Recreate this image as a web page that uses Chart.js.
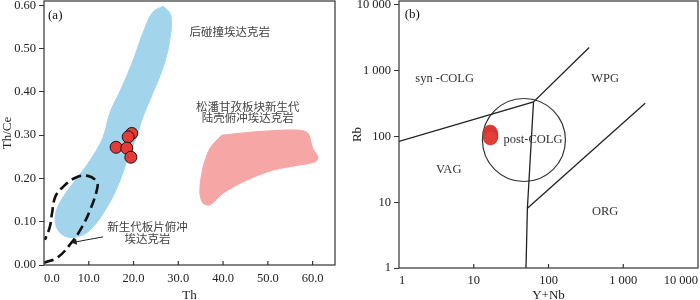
<!DOCTYPE html>
<html>
<head>
<meta charset="utf-8">
<script src="https://cdn.jsdelivr.net/npm/chart.js@4/dist/chart.umd.min.js"></script>
<style>
  html, body { margin: 0; padding: 0; background: #fff; }
  .wrap { display: flex; width: 700px; height: 300px; }
</style>
</head>
<body>
<div class="wrap">
  <canvas id="th-chart" width="350" height="300"></canvas>
  <canvas id="rb-chart" width="350" height="300"></canvas>
</div>
<script>
// ---- panel (a): Th vs Th/Ce ----
const sampleTh   = [19.6, 18.8, 16.1, 18.5, 19.4];
const sampleThCe = [0.304, 0.296, 0.272, 0.270, 0.249];

// post-collision adakite field (blue)
const postColTh   = [26.6, 28.3, 28.1, 26.6, 24.3, 22.1, 20.8, 18.8, 17.0, 14.1, 10.3, 7.4, 5.1, 3.1, 2.5, 3.6, 6.5, 10.3, 13.2, 14.7, 17.4, 19.9, 22.1, 24.3, 26.6];
const postColThCe = [0.598, 0.578, 0.520, 0.457, 0.397, 0.342, 0.300, 0.249, 0.196, 0.134, 0.081, 0.065, 0.065, 0.081, 0.111, 0.145, 0.189, 0.242, 0.296, 0.351, 0.411, 0.473, 0.536, 0.584, 0.598];

// Songpan-Ganzi crustal adakite field (pink)
const songpanTh   = [39.7, 47.5, 56.4, 58.9, 60.0, 61.2, 60.5, 57.1, 51.1, 45.3, 40.0, 37.1, 35.5, 34.8, 35.5, 37.1, 39.7];
const songpanThCe = [0.300, 0.308, 0.312, 0.305, 0.270, 0.249, 0.238, 0.231, 0.219, 0.196, 0.166, 0.139, 0.143, 0.169, 0.224, 0.270, 0.300];

// slab-melt adakite field (dashed)
const slabTh   = [0, 3.1, 6.25, 8.5, 10.3, 11.8, 11.8, 9.8, 6.9, 4.0, 2.5, 1.8, 1.3, 0.2];
const slabThCe = [0.005, 0.018, 0.053, 0.088, 0.127, 0.173, 0.192, 0.206, 0.201, 0.178, 0.157, 0.120, 0.088, 0.058];

const arrowTh   = [13.2, 6.9];
const arrowThCe = [0.065, 0.053];

const thTicks   = [0, 10, 20, 30, 40, 50, 60, 65];
const thCeTicks = [0, 0.1, 0.2, 0.3, 0.4, 0.5, 0.6];

// ---- panel (b): Y+Nb vs Rb ----
const sampleYNb = [16.6, 16.9, 16.8, 17.0, 16.7];
const sampleRb  = [117, 110, 104, 99, 95];

const synVagYNb = [1, 63, 350];
const synVagRb  = [84, 335, 2250];
const vagWpgYNb = [63, 52.2, 50];
const vagWpgRb  = [335, 8.1, 1];
const wpgOrgYNb = [52.2, 1965];
const wpgOrgRb  = [8.1, 320];
const postColCenterYNb = [46.9];
const postColCenterRb  = [88.5];

const logTicks = [1, 10, 100, 1000, 10000];

const pts = (xs, ys) => xs.map((v, i) => ({ x: v, y: ys[i] }));
const serif = "'Liberation Serif', 'Times New Roman', serif";
const cjk = "'Noto Sans CJK SC', sans-serif";
const tickFont = { family: serif, size: 12.5 };
const spaced = v => String(v).replace(/\B(?=(\d{3})+(?!\d))/g, ' ');

// labels drawn through the scales
const notesPlugin = {
  id: 'notes',
  afterDatasetsDraw(chart, args, opts) {
    const { ctx, scales: { x, y } } = chart;
    ctx.save();
    (opts.items || []).forEach(n => {
      ctx.font = n.font;
      ctx.fillStyle = n.color || '#444';
      ctx.textAlign = n.align || 'center';
      ctx.textBaseline = 'middle';
      ctx.fillText(n.text, x.getPixelForValue(n.x), y.getPixelForValue(n.y));
    });
    ctx.restore();
  }
};

// box around plot + inward ticks on x
const framePlugin = {
  id: 'frame',
  afterDraw(chart) {
    const { ctx, chartArea: a, scales: { x } } = chart;
    ctx.save();
    ctx.strokeStyle = '#333';
    ctx.lineWidth = 1.2;
    ctx.strokeRect(a.left, a.top, a.right - a.left, a.bottom - a.top);
    x.ticks.forEach(t => {
      const px = x.getPixelForValue(t.value);
      if (px <= a.left + 1 || px >= a.right - 1) return;
      ctx.beginPath();
      ctx.moveTo(px, a.bottom);
      ctx.lineTo(px, a.bottom - 4);
      ctx.stroke();
    });
    ctx.restore();
  }
};

const base = {
  responsive: false,
  animation: false,
  events: [],
  plugins: { legend: { display: false }, tooltip: { enabled: false } }
};

// Panel (a)
new Chart(document.getElementById('th-chart'), {
  type: 'scatter',
  data: {
    datasets: [{
      data: pts(sampleTh, sampleThCe),
      pointRadius: 6,
      backgroundColor: '#e53a36',
      borderColor: '#1a1a1a',
      borderWidth: 1
    }, {
      data: pts(arrowTh, arrowThCe),
      showLine: true,
      borderColor: '#222',
      borderWidth: 1,
      pointStyle: 'triangle',
      pointRadius: [0, 3.5],
      pointRotation: [0, 260],
      pointBackgroundColor: '#222',
      pointBorderWidth: 0
    }, {
      data: pts(slabTh, slabThCe),
      showLine: true,
      tension: 0.4,
      borderColor: '#111',
      borderWidth: 2.6,
      borderDash: [10, 5],
      pointRadius: 0
    }, {
      data: pts(postColTh, postColThCe),
      showLine: true,
      tension: 0.4,
      fill: 'shape',
      backgroundColor: '#a2d4ec',
      borderColor: '#a2d4ec',
      borderWidth: 1,
      pointRadius: 0
    }, {
      data: pts(songpanTh, songpanThCe),
      showLine: true,
      tension: 0.3,
      fill: 'shape',
      backgroundColor: '#f5a6a5',
      borderColor: '#f5a6a5',
      borderWidth: 1,
      pointRadius: 0
    }]
  },
  options: {
    ...base,
    layout: { autoPadding: false, padding: { top: 1, right: 15, left: 0, bottom: 0 } },
    plugins: {
      ...base.plugins,
      notes: { items: [
        { text: '(a)', x: 0.9, y: 0.577, align: 'left', font: '13px ' + serif, color: '#111' },
        { text: '后碰撞埃达克岩', x: 41.5, y: 0.540, font: '11.5px ' + cjk },
        { text: '松潘甘孜板块新生代', x: 45.5, y: 0.365, font: '11.5px ' + cjk },
        { text: '陆壳俯冲埃达克岩', x: 45.5, y: 0.340, font: '11.5px ' + cjk },
        { text: '新生代板片俯冲', x: 23.1, y: 0.088, font: '11.5px ' + cjk },
        { text: '埃达克岩', x: 23.1, y: 0.060, font: '11.5px ' + cjk }
      ] }
    },
    scales: {
      x: {
        type: 'linear', min: 0, max: 65,
        afterBuildTicks: s => { s.ticks = thTicks.map(v => ({ value: v })); },
        afterFit: s => { s.height = 35; s.paddingLeft = 0; s.paddingRight = 0; },
        ticks: { font: tickFont, color: '#222', padding: 6, align: 'inner', maxRotation: 0,
                 callback: v => v === 65 ? '' : v.toFixed(1) },
        grid: { drawOnChartArea: false, drawTicks: false },
        border: { display: false },
        title: { display: true, text: 'Th', font: { family: serif, size: 13 }, color: '#222', padding: { top: 0, bottom: -3 } }
      },
      y: {
        type: 'linear', min: 0, max: 0.61,
        afterBuildTicks: s => { s.ticks = thCeTicks.map(v => ({ value: v })); },
        afterFit: s => { s.width = 44; s.paddingTop = 0; s.paddingBottom = 0; },
        ticks: { font: tickFont, color: '#222', padding: 3, callback: v => v.toFixed(2) },
        grid: { drawOnChartArea: false, tickLength: 5, tickColor: '#333' },
        border: { display: false },
        title: { display: true, text: 'Th/Ce', font: { family: serif, size: 13 }, color: '#222', padding: { top: 0, bottom: 0 } }
      }
    }
  },
  plugins: [notesPlugin, framePlugin]
});

// Panel (b)
const boundary = (xs, ys) => ({
  data: pts(xs, ys),
  showLine: true,
  borderColor: '#222',
  borderWidth: 1.3,
  pointRadius: 0
});

new Chart(document.getElementById('rb-chart'), {
  type: 'scatter',
  data: {
    datasets: [{
      data: pts(sampleYNb, sampleRb),
      pointRadius: 7,
      backgroundColor: '#e63c38',
      borderColor: '#c03030',
      borderWidth: 0.6
    },
    boundary(synVagYNb, synVagRb),
    boundary(vagWpgYNb, vagWpgRb),
    boundary(wpgOrgYNb, wpgOrgRb),
    {
      data: pts(postColCenterYNb, postColCenterRb),
      pointRadius: 41.5,
      backgroundColor: 'rgba(0,0,0,0)',
      borderColor: '#333',
      borderWidth: 1.2
    }]
  },
  options: {
    ...base,
    layout: { autoPadding: false, padding: { top: 1, right: 2, left: 0, bottom: 0 } },
    plugins: {
      ...base.plugins,
      notes: { items: [
        { text: '(b)', x: 1.19, y: 7046, align: 'left', font: '13px ' + serif, color: '#111' },
        { text: 'syn -COLG', x: 4.08, y: 750, font: '12.5px ' + serif, color: '#333' },
        { text: 'WPG', x: 573, y: 750, font: '12.5px ' + serif, color: '#333' },
        { text: 'post-COLG', x: 62, y: 88.5, font: '12.5px ' + serif, color: '#333' },
        { text: 'VAG', x: 4.62, y: 30.9, font: '12.5px ' + serif, color: '#333' },
        { text: 'ORG', x: 573, y: 7.1, font: '12.5px ' + serif, color: '#333' }
      ] }
    },
    scales: {
      x: {
        type: 'logarithmic', min: 1, max: 10000,
        afterBuildTicks: s => { s.ticks = logTicks.map(v => ({ value: v })); },
        afterFit: s => { s.height = 32; s.paddingLeft = 0; s.paddingRight = 0; },
        ticks: { font: tickFont, color: '#222', padding: 5, align: 'inner', maxRotation: 0, callback: v => spaced(v) },
        grid: { drawOnChartArea: false, drawTicks: false },
        border: { display: false },
        title: { display: true, text: 'Y+Nb', font: { family: serif, size: 13 }, color: '#222', padding: { top: 0, bottom: -3 } }
      },
      y: {
        type: 'logarithmic', min: 1, max: 11500,
        afterBuildTicks: s => { s.ticks = logTicks.map(v => ({ value: v })); },
        afterFit: s => { s.width = 49; s.paddingTop = 0; s.paddingBottom = 0; },
        ticks: { font: tickFont, color: '#222', padding: 3, callback: v => spaced(v) },
        grid: { drawOnChartArea: false, tickLength: 5, tickColor: '#333' },
        border: { display: false },
        title: { display: true, text: 'Rb', font: { family: serif, size: 13 }, color: '#222', padding: { top: 0, bottom: 0 } }
      }
    }
  },
  plugins: [notesPlugin, framePlugin]
});
</script>
</body>
</html>
